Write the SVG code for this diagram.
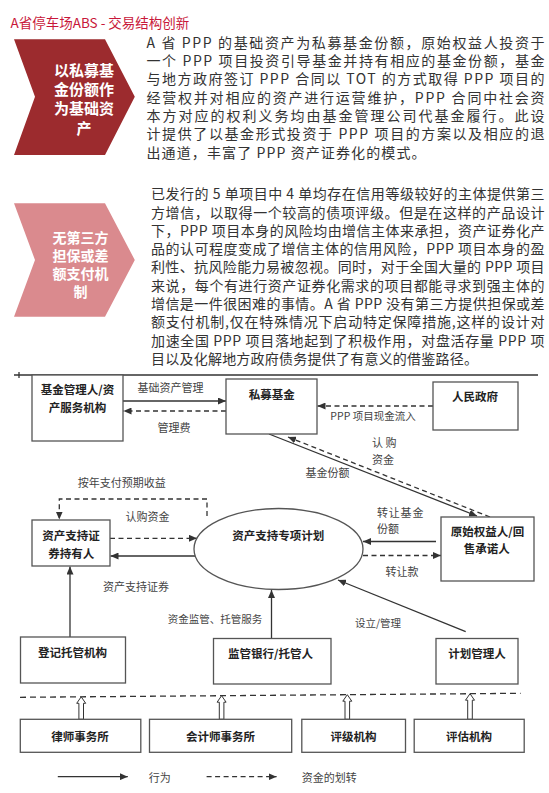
<svg xmlns="http://www.w3.org/2000/svg" width="549" height="793" viewBox="0 0 549 793">
<defs>
<marker id="ah" markerUnits="userSpaceOnUse" markerWidth="8" markerHeight="7" refX="8" refY="3.5" orient="auto"><path d="M0,0 L8,3.5 L0,7 z" fill="#333"/></marker>
</defs>
<style>
text{font-family:"Noto Sans CJK SC","Noto Sans",sans-serif}
.title{font-size:13.5px;fill:#c8173a}
.p1{font-size:14px;fill:#333}
.p2{font-size:14px;fill:#333}
.chev{font-size:15px;font-weight:bold;fill:#fff;text-anchor:middle}
.chev2{font-size:14px;font-weight:bold;fill:#fff;text-anchor:middle}
.box{fill:#fff;stroke:#555;stroke-width:1.3}
.nl{font-size:11.5px;font-weight:bold;fill:#222;text-anchor:middle;dominant-baseline:central}
.el{font-size:11px;fill:#444;dominant-baseline:central}
.m{text-anchor:middle}
.s{stroke:#333;stroke-width:1.3;fill:none}
.d{stroke:#333;stroke-width:1.3;fill:none;stroke-dasharray:5 3.5}
.ha{fill:#fff;stroke:#333;stroke-width:1}
</style>
<rect width="549" height="793" fill="#fff"/>
<text class="title" x="10.5" y="27.5">A省停车场ABS - 交易结构创新</text>

<g id="section1">
<polygon points="14,39.3 105,39.3 134.8,96.7 105,155 14,155 35,96.7" fill="#9c2b2e"/>
<text class="chev" x="84" y="75.6">以私募基</text>
<text class="chev" x="84" y="94.9">金份额作</text>
<text class="chev" x="84" y="113.9">为基础资</text>
<text class="chev" x="84" y="133.9">产</text>
<text class="p1" x="146.5" y="47.8" textLength="398">A 省 PPP 的基础资产为私募基金份额，原始权益人投资于</text>
<text class="p1" x="146.5" y="66.1" textLength="398">一个 PPP 项目投资引导基金并持有相应的基金份额，基金</text>
<text class="p1" x="146.5" y="84.4" textLength="398">与地方政府签订 PPP 合同以 TOT 的方式取得 PPP 项目的</text>
<text class="p1" x="146.5" y="102.7" textLength="398">经营权并对相应的资产进行运营维护，PPP 合同中社会资</text>
<text class="p1" x="146.5" y="121" textLength="398">本方对应的权利义务均由基金管理公司代基金履行。此设</text>
<text class="p1" x="146.5" y="139.3" textLength="398">计提供了以基金形式投资于 PPP 项目的方案以及相应的退</text>
<text class="p1" x="146.5" y="157.6" textLength="279">出通道，丰富了 PPP 资产证券化的模式。</text>
</g>

<g id="section2">
<polygon points="14,203.3 105,203.3 134.8,260 105,316.7 14,316.7 35,260" fill="#da8a8e"/>
<text class="chev2" x="80.5" y="242.5">无第三方</text>
<text class="chev2" x="80.5" y="260.8">担保或差</text>
<text class="chev2" x="80.5" y="279.1">额支付机</text>
<text class="chev2" x="80.5" y="297.4">制</text>
<text class="p2" x="151" y="199.2" textLength="393.5">已发行的 5 单项目中 4 单均存在信用等级较好的主体提供第三</text>
<text class="p2" x="151" y="217.5" textLength="393.5">方增信，以取得一个较高的债项评级。但是在这样的产品设计</text>
<text class="p2" x="151" y="235.8" textLength="393.5">下，PPP 项目本身的风险均由增信主体来承担，资产证券化产</text>
<text class="p2" x="151" y="254.1" textLength="393.5">品的认可程度变成了增信主体的信用风险，PPP 项目本身的盈</text>
<text class="p2" x="151" y="272.4" textLength="393.5">利性、抗风险能力易被忽视。同时，对于全国大量的 PPP 项目</text>
<text class="p2" x="151" y="290.7" textLength="393.5">来说，每个有进行资产证券化需求的项目都能寻求到强主体的</text>
<text class="p2" x="151" y="309" textLength="393.5">增信是一件很困难的事情。A 省 PPP 没有第三方提供担保或差</text>
<text class="p2" x="151" y="327.3" textLength="393.5">额支付机制,仅在特殊情况下启动特定保障措施,这样的设计对</text>
<text class="p2" x="151" y="345.6" textLength="393.5">加速全国 PPP 项目落地起到了积极作用，对盘活存量 PPP 项</text>
<text class="p2" x="151" y="363.9" textLength="327">目以及化解地方政府债务提供了有意义的借鉴路径。</text>
</g>

<g id="frame">
<line class="s" x1="14" y1="375" x2="538" y2="375"/>
<line class="s" x1="19" y1="372" x2="19" y2="378"/>
<line class="d" x1="20" y1="697.3" x2="520.6" y2="693.3" style="stroke-dasharray:6 4"/>
</g>

<g id="connectors">
<line class="s" x1="123" y1="401" x2="226" y2="401" marker-end="url(#ah)"/>
<line class="d" x1="226" y1="411" x2="123.5" y2="411" marker-end="url(#ah)"/>
<line class="d" x1="433" y1="406" x2="317.5" y2="406" marker-end="url(#ah)"/>
<line class="s" x1="269" y1="434" x2="477" y2="516" marker-end="url(#ah)"/>
<line class="d" x1="490" y1="517" x2="288" y2="437" marker-end="url(#ah)"/>
<line class="s" x1="436" y1="541.5" x2="363" y2="541.5" marker-end="url(#ah)"/>
<line class="d" x1="363" y1="555.5" x2="441" y2="555.5" marker-end="url(#ah)"/>
<line class="d" x1="110" y1="538.3" x2="197" y2="538.3" marker-end="url(#ah)"/>
<line class="s" x1="195" y1="556" x2="110.5" y2="556" marker-end="url(#ah)"/>
<path class="d" d="M207,516 V499 H59.3 V519.5" marker-end="url(#ah)"/>
<line class="s" x1="70" y1="637" x2="70" y2="566.5" marker-end="url(#ah)"/>
<line class="s" x1="271.5" y1="638.5" x2="271.5" y2="590" marker-end="url(#ah)"/>
<line class="s" x1="465.7" y1="631.7" x2="338" y2="580" marker-end="url(#ah)"/>
<path class="ha" d="M78.9,719.3 V703.3 H76.7 L81.2,696.8 L85.7,703.3 H83.5 V719.3 Z"/>
<path class="ha" d="M219.3,719.3 V702.2 H217.1 L221.6,695.7 L226.1,702.2 H223.9 V719.3 Z"/>
<path class="ha" d="M345,719.3 V701.2 H342.8 L347.3,694.7 L351.8,701.2 H349.6 V719.3 Z"/>
<path class="ha" d="M467.7,719.3 V700.2 H465.5 L470,693.7 L474.5,700.2 H472.3 V719.3 Z"/>
<text class="el m" x="170.5" y="387.3">基础资产管理</text>
<text class="el m" x="174" y="427.3">管理费</text>
<text class="el m" style="font-size:10.5px" x="373" y="415">PPP 项目现金流入</text>
<text class="el" x="372" y="441.7">认 购</text>
<text class="el" x="372" y="459">资金</text>
<text class="el m" x="327.5" y="471.7">基金份额</text>
<text class="el" style="letter-spacing:0.8px" x="377" y="511.7">转让基金</text>
<text class="el" x="377" y="528.3">份额</text>
<text class="el m" x="402" y="570.7">转让款</text>
<text class="el m" x="147.5" y="516">认购资金</text>
<text class="el m" x="136" y="586">资产支持证券</text>
<text class="el m" x="121.7" y="481.7">按年支付预期收益</text>
<text class="el m" style="font-size:10.5px" x="215" y="618.3">资金监管、托管服务</text>
<text class="el m" style="font-size:10.5px" x="378" y="622.7">设立/管理</text>
</g>

<g id="legend">
<line class="s" x1="57.8" y1="776.7" x2="127.8" y2="776.7" marker-end="url(#ah)"/>
<text class="el" x="148.8" y="776.7">行为</text>
<line class="d" x1="206.6" y1="776.7" x2="276.6" y2="776.7" marker-end="url(#ah)"/>
<text class="el" x="301.8" y="776.7">资金的划转</text>
</g>

<g id="n-fundmgr"><rect class="box" x="32" y="375" width="91" height="66"/><text class="nl" x="77.5" y="389">基金管理人/资</text><text class="nl" x="77.5" y="407.3">产服务机构</text></g>
<g id="n-privatefund"><rect class="box" x="226" y="379" width="91" height="55"/><text class="nl" x="271.7" y="394">私募基金</text></g>
<g id="n-gov"><rect class="box" x="433" y="382" width="85" height="48"/><text class="nl" x="475" y="395.7">人民政府</text></g>
<g id="n-originator"><rect class="box" x="441" y="517" width="93" height="64"/><text class="nl" x="487.5" y="530.7">原始权益人/回</text><text class="nl" x="486.7" y="548.3">售承诺人</text></g>
<g id="n-plan"><ellipse class="box" cx="278.5" cy="549" rx="84.5" ry="40.5"/><text class="nl" x="278.3" y="535">资产支持专项计划</text></g>
<g id="n-holder"><rect class="box" x="32" y="520" width="78" height="46"/><text class="nl" x="71" y="535">资产支持证</text><text class="nl" x="71.3" y="553.3">券持有人</text></g>
<g id="n-registrar"><rect class="box" x="20.5" y="637" width="105" height="46"/><text class="nl" x="72.5" y="651.7">登记托管机构</text></g>
<g id="n-custodian"><rect class="box" x="213.5" y="638.5" width="117.5" height="45.5"/><text class="nl" x="270.5" y="653.3">监管银行/托管人</text></g>
<g id="n-manager"><rect class="box" x="436" y="638.5" width="82" height="45.5"/><text class="nl" x="477" y="653.3">计划管理人</text></g>
<g id="n-law"><rect class="box" x="20.3" y="719.3" width="120.5" height="33"/><text class="nl" x="80" y="736">律师事务所</text></g>
<g id="n-account"><rect class="box" x="149.5" y="719.3" width="142.2" height="33"/><text class="nl" x="220.6" y="736">会计师事务所</text></g>
<g id="n-rating"><rect class="box" x="301.8" y="719.3" width="103.7" height="33"/><text class="nl" x="353.6" y="736">评级机构</text></g>
<g id="n-valuation"><rect class="box" x="414.2" y="719.3" width="110" height="33"/><text class="nl" x="469" y="736">评估机构</text></g>
</svg>
